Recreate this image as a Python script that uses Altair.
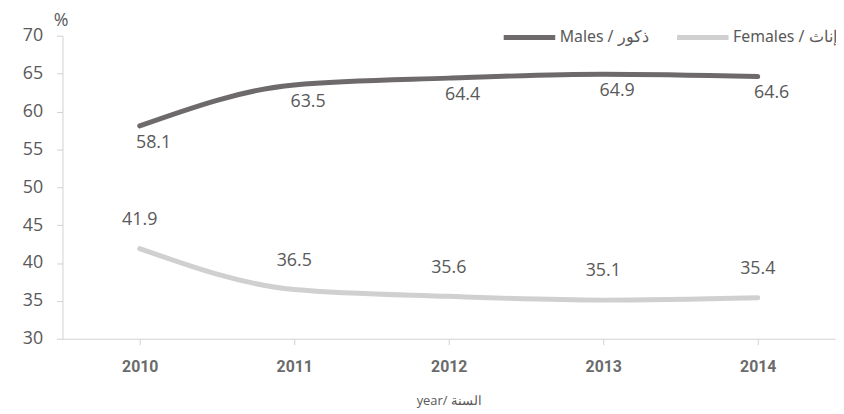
import altair as alt
import pandas as pd

years = ["2010", "2011", "2012", "2013", "2014"]
males = [58.1, 63.5, 64.4, 64.9, 64.6]
females = [41.9, 36.5, 35.6, 35.1, 35.4]
series_names = ["Males / ذكور", "Females / إناث"]
series_colors = ["#6e6a6c", "#d0d0d0"]

rows = []
for y, v in zip(years, males):
    rows.append({"year": y, "value": v, "series": series_names[0]})
for y, v in zip(years, females):
    rows.append({"year": y, "value": v, "series": series_names[1]})
df = pd.DataFrame(rows)

x = alt.X("year:O", scale=alt.Scale(type="point", padding=0.5),
          axis=alt.Axis(title="year/ السنة", labelAngle=0, labelFont="Roboto",
                        labelFontWeight="bold", labelFontSize=16, labelColor="#6b6b6b",
                        labelPadding=14, domainColor="#d0d0d0", tickColor="#d0d0d0",
                        tickSize=6, titleFont="Open Sans", titleFontWeight="normal",
                        titleFontSize=13, titleColor="#595959", titlePadding=20))
y = alt.Y("value:Q", scale=alt.Scale(domain=[30, 70], nice=False, zero=False),
          axis=alt.Axis(values=list(range(30, 71, 5)), labelOverlap=False, grid=False,
                        title="%", titleAngle=0, titleAlign="center",
                        titleBaseline="alphabetic",
                        titleX=-2, titleY=-10, titleFont="Open Sans", titleFontSize=18,
                        titleFontWeight="normal", titleColor="#595959",
                        labelFont="Open Sans", labelFontSize=18, labelColor="#595959",
                        labelPadding=14, domainColor="#d0d0d0", tickColor="#d0d0d0",
                        tickSize=6))
color = alt.Color("series:N", scale=alt.Scale(domain=series_names, range=series_colors),
                  legend=alt.Legend(title=None, orient="none", direction="horizontal",
                                    legendX=443, legendY=-27, symbolType="stroke",
                                    symbolSize=2704, symbolStrokeWidth=5,
                                    labelFont="Noto Sans", labelFontSize=16,
                                    labelFontWeight=400,
                                    labelColor="#595959", labelOffset=2,
                                    columnPadding=18, padding=0))

lines = alt.Chart(df).mark_line(interpolate="monotone", strokeWidth=5, strokeCap="round").encode(
    x=x, y=y, color=color, order="year:O")

base_text = alt.Chart(df)
male_text = base_text.transform_filter(alt.datum.series == series_names[0]).mark_text(
    font="Open Sans", fontSize=18, color="#595959", dy=17, dx=14, baseline="middle").encode(
    x=x, y=y, text=alt.Text("value:Q", format=".1f"))
female_text = base_text.transform_filter(alt.datum.series == series_names[1]).mark_text(
    font="Open Sans", fontSize=18, color="#595959", dy=-29, baseline="middle").encode(
    x=x, y=y, text=alt.Text("value:Q", format=".1f"))

chart = alt.layer(lines, male_text, female_text).properties(
    width=780, height=306,
    autosize=alt.AutoSizeParams(type="none"),
    padding={"left": 55, "top": 26, "right": 1, "bottom": 72},
).configure_view(stroke=None)

chart.save("out.html", embed_options={"renderer": "svg", "actions": False})
